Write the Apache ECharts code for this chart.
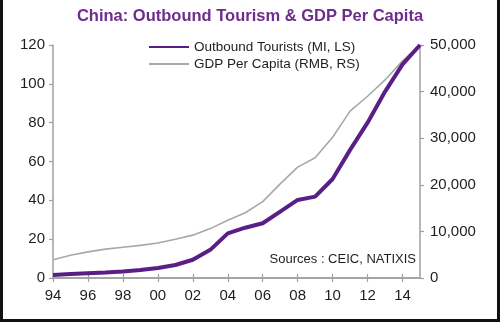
<!DOCTYPE html>
<html>
<head>
<meta charset="utf-8">
<script src="https://cdn.jsdelivr.net/npm/echarts@6/dist/echarts.min.js"></script>
<style>
  html, body { margin: 0; padding: 0; background: #fff; }
  #chart { width: 500px; height: 322px; }
</style>
</head>
<body>
<div id="chart"></div>
<script>
// Years 1994-2015, labelled with two digits
const years = ['94','95','96','97','98','99','00','01','02','03','04','05','06','07','08','09','10','11','12','13','14','15'];
// Outbound tourists, millions (left scale)
const outboundTourists = [1.5, 2.0, 2.4, 2.8, 3.3, 4.1, 5.2, 6.7, 9.4, 14.5, 23.0, 25.9, 28.2, 34.2, 40.2, 41.9, 51.0, 66.0, 80.0, 96.0, 110.0, 120.0];
// GDP per capita, RMB (right scale)
const gdpPerCapita = [3900, 4900, 5600, 6200, 6600, 7000, 7500, 8300, 9200, 10600, 12400, 14000, 16400, 20200, 23800, 25800, 30200, 35800, 39000, 42500, 46600, 50000];
const leftTicks = [0, 120, 20];
const rightTicks = [0, 50000, 10000];

const PURPLE = '#5a1f87';
const GREY = '#a8a8a8';
const AXIS = '#a0a0a0';
const TEXT = '#1e1e1e';
const FONT = 'Liberation Sans, Arial, sans-serif';

const chart = echarts.init(document.getElementById('chart'), null, { renderer: 'canvas' });

const xBase = {
  type: 'category',
  data: years,
  boundaryGap: false,
  position: 'bottom',
  axisLine: { lineStyle: { color: AXIS, width: 1.5 } },
  splitLine: { show: false }
};

chart.setOption({
  backgroundColor: '#fff',
  animation: false,
  title: {
    text: 'China: Outbound Tourism & GDP Per Capita',
    left: 'center',
    top: 3,
    textStyle: { color: '#6e2d8c', fontFamily: FONT, fontWeight: 'bold', fontSize: 16.5 }
  },
  legend: {
    orient: 'vertical',
    left: 143,
    top: 35,
    itemWidth: 40,
    itemHeight: 14,
    itemGap: 3,
    itemStyle: { opacity: 0 },
    textStyle: { color: TEXT, fontFamily: FONT, fontSize: 13.5 },
    data: ['Outbound Tourists (MI, LS)', 'GDP Per Capita (RMB, RS)']
  },
  grid: { left: 53, right: 80, top: 45, bottom: 44 },
  xAxis: [
    Object.assign({}, xBase, {
      axisTick: { show: true, interval: 1, length: 4, lineStyle: { color: AXIS, width: 1.2 } },
      axisLabel: { interval: 1, margin: 10, color: TEXT, fontFamily: FONT, fontSize: 15 }
    }),
    Object.assign({}, xBase, {
      axisTick: { show: true, inside: true, interval: 1, length: 4, lineStyle: { color: AXIS, width: 1.2 } },
      axisLabel: { show: false }
    })
  ],
  yAxis: [
    {
      type: 'value',
      position: 'left',
      min: leftTicks[0], max: leftTicks[1], interval: leftTicks[2],
      axisLine: { show: true, lineStyle: { color: AXIS, width: 1.5 } },
      axisTick: { show: true, length: 4, lineStyle: { color: AXIS, width: 1.2 } },
      axisLabel: { margin: 8, color: TEXT, fontFamily: FONT, fontSize: 15 },
      splitLine: { show: false }
    },
    {
      type: 'value',
      position: 'right',
      min: rightTicks[0], max: rightTicks[1], interval: rightTicks[2],
      axisLine: { show: true, lineStyle: { color: AXIS, width: 1.5 } },
      axisTick: { show: true, length: 4, lineStyle: { color: AXIS, width: 1.2 } },
      axisLabel: {
        margin: 10, color: TEXT, fontFamily: FONT, fontSize: 15,
        formatter: v => v.toLocaleString('en-US')
      },
      splitLine: { show: false }
    }
  ],
  series: [
    {
      name: 'GDP Per Capita (RMB, RS)',
      type: 'line',
      yAxisIndex: 1,
      data: gdpPerCapita,
      symbol: 'none',
      lineStyle: { color: GREY, width: 1.6 },
      itemStyle: { color: GREY },
      z: 2
    },
    {
      name: 'Outbound Tourists (MI, LS)',
      type: 'line',
      yAxisIndex: 0,
      data: outboundTourists,
      symbol: 'none',
      lineStyle: { color: PURPLE, width: 4 },
      itemStyle: { color: PURPLE },
      z: 3
    }
  ],
  graphic: [
    {
      type: 'text',
      right: 84,
      top: 253,
      style: { text: 'Sources : CEIC, NATIXIS', fill: TEXT, font: '13px ' + FONT }
    },
    // frame around the panel
    { type: 'rect', left: 0, top: 0, shape: { width: 3, height: 322 }, style: { fill: '#111' } },
    { type: 'rect', left: 497, top: 0, shape: { width: 3, height: 322 }, style: { fill: '#111' } },
    { type: 'rect', left: 0, top: 319, shape: { width: 500, height: 3 }, style: { fill: '#111' } }
  ]
});
</script>
</body>
</html>
